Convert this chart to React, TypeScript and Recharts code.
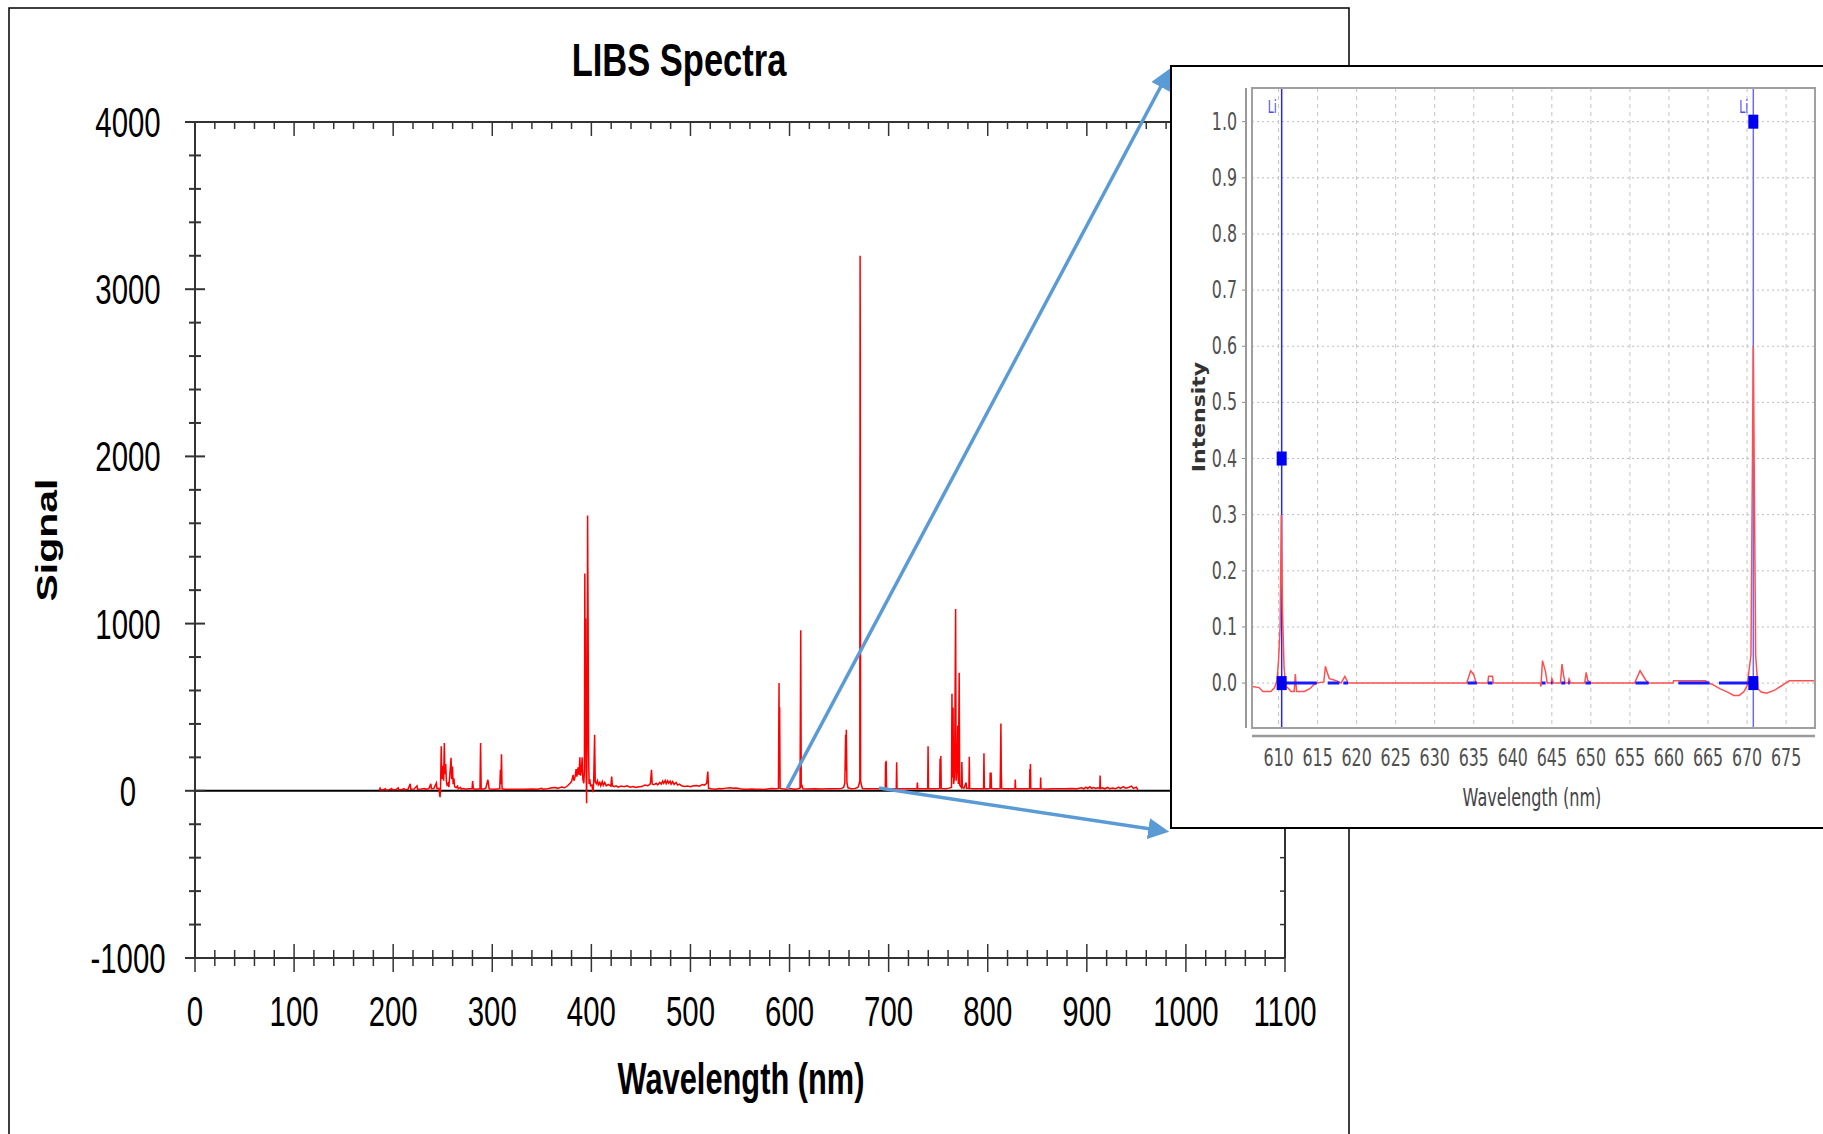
import React from 'react';
import {
  CartesianGrid,
  ComposedChart,
  Line,
  ReferenceLine,
  Scatter,
  XAxis,
  YAxis,
} from 'recharts';

// ---- main spectrum: [wavelength nm, signal] ----
const uvPoints: [number, number][] = [
  [186, 4], [186.8, 15], [187.5, 5], [190, 6], [192, 12], [192.6, 5], [196, 7], [198.5, 14], [199, 6],
  [203, 8], [205, 18], [205.6, 7], [209, 8], [211, 13], [211.6, 7], [215, 9], [217.2, 42], [217.8, 9],
  [221, 10], [224, 30], [224.6, 10], [228, 11], [232, 14], [232.6, 10], [236, 12], [238, 42], [238.6, 12],
  [241, 13], [243.6, 46], [244.2, 13], [246, 15], [247.3, -38], [247.8, 20], [248.5, 266], [249.1, 70],
  [250.3, 150], [250.9, 60], [251.6, 286], [252.2, 100], [253, 160], [253.7, 55], [254.4, 35], [255.5, 45],
  [256.2, 22], [257.6, 130], [258.4, 198], [259, 70], [259.8, 145], [260.5, 40], [261.3, 75], [262, 25],
  [263.5, 18], [265, 28], [265.6, 12], [268, 20], [268.6, 10], [271, 14], [273, 10], [276, 12], [279.6, 14],
  [280.2, 58], [280.9, 12], [283, 10], [285.5, 11], [287.6, 12], [288.2, 286], [288.8, 12], [291, 9], [293.5, 15],
  [295.6, 66], [296.2, 42], [296.8, 12], [299, 10], [302, 9], [305, 11], [307.5, 12], [308.2, 125],
  [308.7, 40], [309.3, 218], [309.9, 12], [312, 10],
];

const caPoints: [number, number][] = [
  [318, 9], [325, 10], [332, 9], [340, 11], [346, 10], [350, 15], [351, 9], [356, 12], [360, 18], [364, 20],
  [366, 14], [370, 22], [373, 18], [376, 30], [378.5, 45], [380, 55], [381.6, 95], [382.4, 60], [383.5, 80],
  [384.6, 130], [385.4, 85], [386.6, 140], [387.5, 95], [388.4, 200], [389.1, 90], [390, 130], [390.7, 200],
  [391.4, 70], [392.4, 45], [393.0, 120], [393.4, 1300], [393.8, 260], [394.2, 1030], [394.6, 180],
  [395.2, -75], [395.7, 320], [396.2, 1647], [396.7, 1030], [397.2, 240], [397.7, 40], [398.4, 70],
  [399.2, 30], [400.5, 35], [401.6, -8], [402.3, 45], [403.3, 335], [403.9, 55], [405, 42], [406.2, 60],
  [407, 35], [408.5, 50], [409.5, 30], [411, 55], [412, 32], [413.5, 50], [415, 30], [417, 38], [419.7, 28],
  [420.5, 85], [421.2, 30], [423, 25], [425, 30], [427, 22], [430, 28], [433, 24], [436, 30], [439, 22],
  [442, 26], [445, 20], [448, 24],
];

const visPoints: [number, number][] = [
  [451, 25], [454, 35], [457, 30], [459.5, 42], [460.7, 125], [461.4, 40], [463, 36], [465.5, 45], [467, 35],
  [469, 50], [470.5, 40], [472, 58], [473, 45], [474.5, 62], [475.5, 42], [477, 60], [478, 45], [479.5, 58],
  [480.5, 40], [482, 55], [483.5, 38], [485.5, 50], [487, 34], [489, 40], [491, 30], [494, 26], [497, 28],
  [500, 24], [503, 30], [506, 32], [509, 28], [512, 38], [514, 34], [516.4, 45], [517.5, 115], [518.3, 15],
  [521, 12], [525, 10], [529, 14], [532, 12], [536, 16], [540, 18], [543, 15], [546, 17], [550, 12], [554, 10],
  [558, 9], [562, 11], [566, 9], [570, 10], [574, 8], [578, 11], [582, 13], [586, 12], [588.8, 14],
  [589.4, 644], [589.7, 120], [590.0, 500], [590.5, 14], [593, 12], [597, 10], [601, 13], [605, 10],
  [608.5, 12], [610.6, 16], [611.3, 960], [611.8, 25], [612.6, 30], [613.5, 12], [618, 11], [625, 12],
  [632, 11], [640, 12], [647, 12], [652, 13], [654.5, 20], [655.8, 45], [656.6, 335], [657.0, 120],
  [657.3, 365], [657.9, 50], [659, 18], [662, 13], [666, 14], [669, 20], [670.3, 42], [670.9, 60],
  [671.2, 3200], [671.4, 2650], [671.7, 60], [672.3, 40], [673.5, 14],
];

const nirPoints: [number, number][] = [
  [678, 12], [684, 13], [690, 12], [694, 13], [696.6, 14], [696.9, 171], [697.2, 40], [697.5, 180],
  [697.9, 14], [702, 12], [707.7, 13], [708.1, 171], [708.5, 13], [714, 12], [720, 13], [728.6, 12],
  [729, 50], [729.4, 12], [735, 12], [739.4, 14], [739.8, 267], [740.2, 14], [746, 12], [751.5, 14],
  [751.9, 192], [752.3, 60], [752.7, 208], [753.1, 14], [758, 13], [761, 16], [763.4, 20], [763.9, 581],
  [764.4, 80], [765.0, 498], [765.5, 40], [766.2, 70], [766.6, 130], [767.6, 1087], [768.1, 60],
  [769.2, 150], [769.8, 390], [770.3, 40], [771.2, 706], [771.7, 35], [773.4, 20], [773.9, 172],
  [774.4, 20], [776, 15], [778.2, 50], [778.6, 15], [781.0, 14], [781.4, 204], [781.8, 14], [786, 12],
  [791, 13], [795.8, 14], [796.2, 225], [796.6, 14], [800, 12], [802.2, 14], [802.5, 110], [802.9, 14],
  [803.4, 110], [803.8, 14], [808, 12], [812.5, 14], [812.8, 140], [813.3, 402], [813.7, 110], [814.1, 14],
  [818, 12], [822, 13], [827.5, 12], [827.8, 68], [828.2, 12], [834, 13], [838, 12], [842.2, 14],
  [842.5, 130], [842.8, 40], [843.1, 160], [843.5, 14], [848, 12], [853.1, 12], [853.4, 80], [853.8, 12],
  [860, 11], [866, 12], [872, 13], [878, 12], [884, 14], [890, 12], [895, 18], [897, 12], [899, 22],
  [901, 14], [903, 24], [905, 15], [907, 20], [909, 14], [911, 18], [913.1, 15], [913.4, 92], [913.8, 14],
  [916, 18], [918, 12], [921, 20], [923, 13], [926, 17], [929, 12], [932, 22], [934, 14], [937, 25],
  [939, 15], [942, 20], [945, 28], [947, 14], [950, 22], [951.5, 6],
];

const mainXLabels = [0, 100, 200, 300, 400, 500, 600, 700, 800, 900, 1000, 1100];
const mainYLabels = [-1000, 0, 1000, 2000, 3000, 4000];
const mainXMinorStep = 20;
const mainYMinorStep = 200;

// ---- inset (zoom 606-679 nm), normalised intensity ----
const insetRed: [number, number][] = [
  [606.6, -0.006], [607.5, -0.008], [608.0, -0.015], [609.0, -0.015], [609.5, -0.008], [609.8, 0.005],
  [610.0, 0.04], [610.2, 0.1], [610.35, 0.3], [610.5, 0.13], [610.7, 0.03], [610.9, -0.005], [611.3, -0.01],
  [611.6, -0.015], [612.0, -0.015], [612.15, 0.016], [612.3, -0.015], [613.3, -0.015], [614.0, -0.01],
  [614.5, -0.003], [614.9, 0], [615.8, 0.002], [616.0, 0.03], [616.2, 0.02], [616.5, 0.008], [617.0, 0.006],
  [617.6, 0.003], [618.0, 0], [618.5, 0.012], [618.9, 0], [634.1, 0], [634.6, 0.022], [635.0, 0.015],
  [635.3, 0], [636.8, 0], [636.9, 0.012], [637.4, 0.012], [637.5, 0], [643.5, 0], [643.6, -0.006],
  [643.8, 0.04], [644.2, 0.02], [644.4, 0], [644.9, 0], [645.0, 0.008], [645.2, 0], [646.1, 0],
  [646.3, 0.034], [646.5, 0.014], [646.7, 0], [647.1, 0], [647.2, 0.007], [647.4, 0], [649.2, 0],
  [649.4, 0.019], [649.6, 0.005], [650.0, 0], [655.6, 0], [656.3, 0.022], [657.0, 0.006], [657.4, 0],
  [660.5, 0], [660.6, 0.004], [664.7, 0.004], [665.0, 0], [665.5, -0.002], [666.5, -0.01], [667.5, -0.016],
  [668.3, -0.022], [669.0, -0.022], [669.6, -0.015], [670.0, -0.005], [670.5, 0.05], [670.8, 0.6],
  [671.1, 0.05], [671.4, -0.01], [671.8, -0.016], [672.5, -0.018], [673.6, -0.012], [674.6, -0.003],
  [675.4, 0.004], [678.7, 0.004],
];

// integration windows drawn in blue on the baseline: [from, to]
const insetWindows: [number, number][] = [
  [610.4, 614.9], [616.3, 617.8], [618.3, 618.9], [634.2, 635.4], [636.8, 637.4], [643.7, 644.2],
  [644.9, 645.1], [646.2, 646.7], [647.1, 647.3], [649.3, 650.0], [655.7, 657.4], [661.2, 665.2],
  [666.4, 670.8],
];

const liLines = [610.4, 670.8];
const liMarkers: [number, number][] = [[610.4, 0.4], [610.4, 0], [670.8, 1.0], [670.8, 0]];

const insetXLabels = [610, 615, 620, 625, 630, 635, 640, 645, 650, 655, 660, 665, 670, 675];
const insetYLabels = [0, 0.1, 0.2, 0.3, 0.4, 0.5, 0.6, 0.7, 0.8, 0.9, 1.0];

// ---- derived tables ----
const mainData = [...uvPoints, ...caPoints, ...visPoints, ...nirPoints].map(([wl, s]) => ({ wl, s }));

const minorTicks = (labels: number[], step: number) => {
  const out: number[] = [];
  const lo = labels[0];
  const hi = labels[labels.length - 1];
  for (let v = lo; v <= hi + 1e-9; v += step) out.push(v);
  return out;
};
const mainXTicks = minorTicks(mainXLabels, mainXMinorStep);
const mainYTicks = minorTicks(mainYLabels, mainYMinorStep);

const insetRedData = insetRed.map(([wl, v]) => ({ wl, v }));
const insetBlueData = insetWindows.flatMap(([a, b]) => [
  { wl: a, v: 0 },
  { wl: b, v: 0 },
  { wl: b + 0.01, v: null },
]);
const liMarkerData = liMarkers.map(([wl, v]) => ({ wl, v }));

const MAIN_FONT = '"Liberation Sans", Arial, Helvetica, sans-serif';
const INSET_FONT = '"DejaVu Sans", Verdana, sans-serif';
const SQ = 0.7; // the whole picture is horizontally squeezed
const AXIS = '#333';

function SqText({ x, y, sx, rotate, children, ...rest }: any) {
  const t = `translate(${x},${y}) scale(${sx},1)${rotate ? ` rotate(${rotate})` : ''}`;
  return (
    <g transform={t}>
      <text x={0} y={0} {...rest}>
        {children}
      </text>
    </g>
  );
}

const isMajor = (v: number, labels: number[]) => labels.some((l) => Math.abs(l - v) < 1e-6);

const bottomTick = (p: any) => {
  const v = p.payload.value;
  const major = isMajor(v, mainXLabels);
  const len = major ? 14 : 8;
  return (
    <g>
      <line x1={p.x} x2={p.x} y1={p.y - len} y2={p.y + len} stroke={AXIS} strokeWidth={1.5} />
      {major && (
        <SqText x={p.x} y={p.y + 68} sx={SQ} textAnchor="middle" fontFamily={MAIN_FONT} fontSize={42} fill="#000">
          {v}
        </SqText>
      )}
    </g>
  );
};

const topTick = (p: any) => {
  const major = isMajor(p.payload.value, mainXLabels);
  return <line x1={p.x} x2={p.x} y1={p.y} y2={p.y + (major ? 14 : 7)} stroke={AXIS} strokeWidth={1.5} />;
};

const leftTick = (p: any) => {
  const v = p.payload.value;
  const major = isMajor(v, mainYLabels);
  const len = major ? 10 : 6;
  return (
    <g>
      <line x1={p.x - len} x2={p.x + len} y1={p.y} y2={p.y} stroke={AXIS} strokeWidth={2} />
      {major && (
        <SqText x={p.x - 67} y={p.y + 15} sx={SQ} textAnchor="middle" fontFamily={MAIN_FONT} fontSize={42} fill="#000">
          {v}
        </SqText>
      )}
    </g>
  );
};

const rightTick = (p: any) => (
  <line x1={p.x - 5} x2={p.x} y1={p.y} y2={p.y} stroke={AXIS} strokeWidth={1.5} />
);

const insetXTick = (p: any) => (
  <SqText x={p.x} y={p.y + 38} sx={0.66} textAnchor="middle" fontFamily={INSET_FONT} fontSize={24} fill="#505050">
    {p.payload.value}
  </SqText>
);

const insetYTick = (p: any) => (
  <g>
    <line x1={p.x - 10} x2={p.x - 6} y1={p.y} y2={p.y} stroke="#888" strokeWidth={1} />
    <SqText x={p.x - 15} y={p.y + 8} sx={0.66} textAnchor="end" fontFamily={INSET_FONT} fontSize={24} fill="#505050">
      {p.payload.value.toFixed(1)}
    </SqText>
  </g>
);

const LiLabel = (p: any) => {
  const vb = p.viewBox || {};
  return (
    <SqText x={vb.x - 14} y={vb.y + 25} sx={0.6} fontFamily={INSET_FONT} fontSize={18} fill="#4a4aff">
      Li
    </SqText>
  );
};

const LiMarker = (p: any) => <rect x={p.cx - 5} y={p.cy - 7} width={10} height={14} fill="#0000f0" />;

export default function App() {
  return (
    <div
      style={{
        position: 'absolute',
        left: 0,
        top: 0,
        width: 1823,
        height: 1134,
        overflow: 'hidden',
        background: '#fff',
      }}
    >
      <div style={{ position: 'absolute', left: 0, top: 0 }}>
        <ComposedChart
          width={1349}
          height={1134}
          data={mainData}
          margin={{ top: 122, right: 64, bottom: 116, left: 115 }}
        >
          <XAxis
            xAxisId="b"
            dataKey="wl"
            type="number"
            domain={[0, 1100]}
            allowDataOverflow
            ticks={mainXTicks}
            interval={0}
            tickSize={0}
            tickMargin={0}
            tickLine={false}
            tick={bottomTick}
            axisLine={{ stroke: AXIS, strokeWidth: 2 }}
            height={60}
          />
          <XAxis
            xAxisId="t"
            orientation="top"
            mirror
            dataKey="wl"
            type="number"
            domain={[0, 1100]}
            allowDataOverflow
            ticks={mainXTicks}
            interval={0}
            tickSize={0}
            tickMargin={0}
            tickLine={false}
            tick={topTick}
            axisLine={{ stroke: AXIS, strokeWidth: 2 }}
          />
          <YAxis
            yAxisId="l"
            type="number"
            domain={[-1000, 4000]}
            allowDataOverflow
            ticks={mainYTicks}
            interval={0}
            width={80}
            tickSize={0}
            tickMargin={0}
            tickLine={false}
            tick={leftTick}
            axisLine={{ stroke: AXIS, strokeWidth: 2 }}
          />
          <YAxis
            yAxisId="r"
            orientation="right"
            mirror
            type="number"
            domain={[-1000, 4000]}
            allowDataOverflow
            ticks={mainYTicks}
            interval={0}
            tickSize={0}
            tickMargin={0}
            tickLine={false}
            tick={rightTick}
            axisLine={{ stroke: AXIS, strokeWidth: 2 }}
          />
          <ReferenceLine xAxisId="b" yAxisId="l" y={0} stroke="#000" strokeWidth={2} />
          <Line
            xAxisId="t"
            yAxisId="r"
            dataKey="s"
            stroke="none"
            dot={false}
            activeDot={false}
            isAnimationActive={false}
          />
          <Line
            xAxisId="b"
            yAxisId="l"
            dataKey="s"
            type="linear"
            stroke="#ff0000"
            strokeWidth={1.5}
            dot={false}
            activeDot={false}
            isAnimationActive={false}
          />
        </ComposedChart>
      </div>

      <svg
        width={1823}
        height={1134}
        style={{ position: 'absolute', left: 0, top: 0, pointerEvents: 'none' }}
      >
        <defs>
          <marker id="ah" markerWidth="6" markerHeight="6" refX="4.5" refY="3" orient="auto" markerUnits="strokeWidth">
            <path d="M0,0 L6,3 L0,6 z" fill="#5b9bd5" />
          </marker>
        </defs>
        <path d="M9,1140 L9,8 L1349,8 L1349,1140" fill="none" stroke="#000" strokeWidth={1.5} />
        <SqText x={679} y={76} sx={0.75} textAnchor="middle" fontFamily={MAIN_FONT} fontSize={46} fontWeight="bold" fill="#000">
          LIBS Spectra
        </SqText>
        <SqText x={741} y={1094} sx={0.7} textAnchor="middle" fontFamily={MAIN_FONT} fontSize={44} fontWeight="bold" fill="#000">
          Wavelength (nm)
        </SqText>
        <SqText x={47} y={540} sx={SQ} rotate={-90} dy="0.36em" textAnchor="middle" fontFamily={MAIN_FONT} fontSize={41} fontWeight="bold" fill="#000">
          Signal
        </SqText>
        <line x1={787} y1={789} x2={1168} y2={73} stroke="#5b9bd5" strokeWidth={3.5} markerEnd="url(#ah)" />
        <line x1={879} y1={788} x2={1164} y2={831} stroke="#5b9bd5" strokeWidth={3.5} markerEnd="url(#ah)" />
      </svg>

      <div
        style={{
          position: 'absolute',
          left: 1170,
          top: 65,
          width: 700,
          height: 760,
          border: '2px solid #000',
          background: '#fff',
        }}
      >
        <ComposedChart width={651} height={760} margin={{ top: 21, right: 8, bottom: 39, left: 0 }}>
          <CartesianGrid horizontal vertical={false} stroke="#bdbdbd" strokeDasharray="2 3" />
          <CartesianGrid horizontal={false} vertical stroke="#c4c4c4" strokeDasharray="4 4" />
          <XAxis
            dataKey="wl"
            type="number"
            domain={[606.6, 678.7]}
            allowDataOverflow
            ticks={insetXLabels}
            interval={0}
            tickSize={0}
            tickMargin={0}
            tickLine={false}
            tick={insetXTick}
            axisLine={false}
            height={60}
          />
          <YAxis
            type="number"
            domain={[-0.08, 1.06]}
            allowDataOverflow
            ticks={insetYLabels}
            interval={0}
            width={80}
            tickSize={0}
            tickMargin={0}
            tickLine={false}
            tick={insetYTick}
            axisLine={false}
          />
          {liLines.map((wl, i) => (
            <ReferenceLine
              key={wl}
              x={wl}
              stroke={i === 0 ? '#2525ff' : '#6a6aff'}
              strokeWidth={1.5}
              label={LiLabel}
            />
          ))}
          <Line
            data={insetRedData}
            dataKey="v"
            type="linear"
            stroke="#ff5050"
            strokeWidth={1.5}
            dot={false}
            activeDot={false}
            isAnimationActive={false}
          />
          <Line
            data={insetBlueData}
            dataKey="v"
            type="linear"
            stroke="#1a1aff"
            strokeWidth={3}
            connectNulls={false}
            dot={false}
            activeDot={false}
            isAnimationActive={false}
          />
          <Scatter data={liMarkerData} dataKey="v" shape={LiMarker} isAnimationActive={false} />
        </ComposedChart>
        <svg width={651} height={760} style={{ position: 'absolute', left: 0, top: 0, pointerEvents: 'none' }}>
          <rect x={80} y={21} width={563} height={640} fill="none" stroke="#a0a0a0" strokeWidth={2} />
          <line x1={74} y1={21} x2={74} y2={661} stroke="#999" strokeWidth={2} />
          <line x1={80} y1={669} x2={643} y2={669} stroke="#999" strokeWidth={2.5} />
          <SqText x={27} y={350} sx={0.8} rotate={-90} dy="0.36em" textAnchor="middle" fontFamily={INSET_FONT} fontSize={22} fontWeight="bold" fill="#333">
            Intensity
          </SqText>
          <SqText x={360} y={739} sx={0.67} textAnchor="middle" fontFamily={INSET_FONT} fontSize={24} fill="#444">
            Wavelength (nm)
          </SqText>
        </svg>
      </div>
    </div>
  );
}
